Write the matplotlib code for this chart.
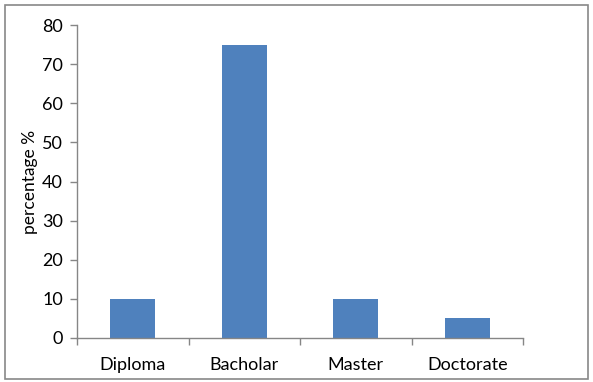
import matplotlib.pyplot as plt
from matplotlib.patches import Rectangle

categories = ['Diploma', 'Bacholar', 'Master', 'Doctorate']
values = [10, 75, 10, 5]
yticks = [0, 10, 20, 30, 40, 50, 60, 70, 80]

plt.rcParams['font.family'] = ['Lato', 'DejaVu Sans']

fig = plt.figure(figsize=(5.93, 3.82), dpi=100)
ax = fig.add_axes([77 / 593, 44 / 382, 446 / 593, 313 / 382])

x = range(len(categories))
ax.bar(x, values, width=0.4, color='#4F81BD')

ax.set_xlim(-0.5, len(categories) - 0.5)
ax.set_ylim(0, 80)
ax.set_yticks(yticks)
ax.set_xticks(list(x))
ax.set_xticklabels(categories)
ax.set_xticks([i - 0.5 for i in range(len(categories) + 1)], minor=True)
ax.tick_params(axis='x', which='major', length=0, pad=14, labelsize=13)
ax.tick_params(axis='x', which='minor', length=5, color='#868686', width=1)
ax.tick_params(axis='y', length=5, color='#868686', width=1, labelsize=13, pad=5)
ax.set_ylabel('percentage %', fontsize=12.5, labelpad=3)

for side in ['top', 'right']:
    ax.spines[side].set_visible(False)
for side in ['left', 'bottom']:
    ax.spines[side].set_color('#868686')
    ax.spines[side].set_linewidth(1)

# chart area border
fig.patches.append(Rectangle((5 / 593, 3 / 382), 583 / 593, 374 / 382,
                             transform=fig.transFigure, fill=False,
                             edgecolor='#888888', linewidth=1.2))

fig.savefig('out.png', dpi=100)
